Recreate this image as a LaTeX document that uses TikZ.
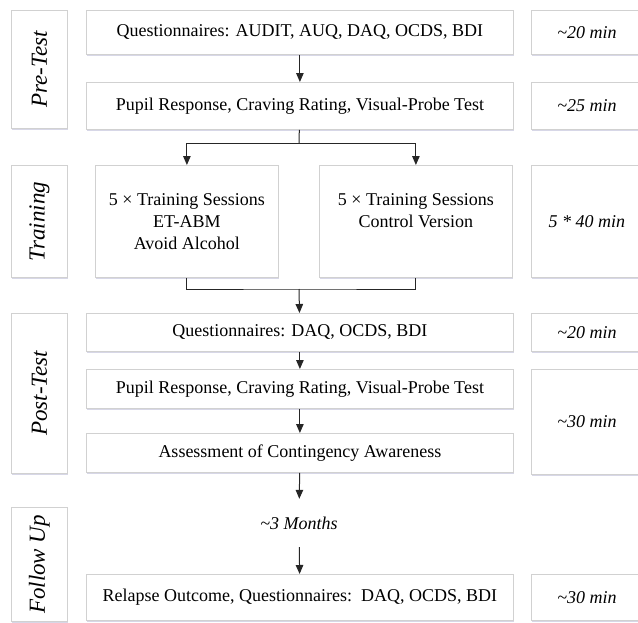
\documentclass[tikz,border=0pt]{standalone}
\usepackage{fontspec}
\setmainfont{Liberation Serif}
\usetikzlibrary{arrows.meta,shadows}

\begin{document}
\begin{tikzpicture}[
  x=1pt, y=-1pt,
  every node/.style={align=center},
  box/.style={draw=black!18,line width=0.8pt,fill=white,rectangle,anchor=north west,
    inner sep=0pt,font=\fontsize{18}{22}\selectfont,
    drop shadow={shadow xshift=0.8pt,shadow yshift=-1.2pt,fill=blue!25!gray,opacity=0.25}},
  phase/.style={box,minimum width=56pt,font=\fontsize{23}{26}\selectfont\itshape},
  stepbox/.style={box,minimum width=427pt},
  timebox/.style={box,minimum width=111pt,font=\fontsize{18}{22}\selectfont\itshape},
  flow/.style={->,>={Triangle[length=9pt,width=7.5pt]},line width=1pt,black!85},
  link/.style={-,line width=1pt,black!85}]

  \useasboundingbox (0,0) rectangle (638,622);
  \clip (0,0) rectangle (638,622);

  % phase labels
  \node[phase,minimum height=118pt] (pPre) at (11,10) {\rotatebox{90}{Pre-Test}};
  \node[phase,minimum height=112pt] (pTrain) at (11,165) {\rotatebox{90}{Training}};
  \node[phase,minimum height=160pt] (pPost) at (11,313) {\rotatebox{90}{Post-Test}};
  \node[phase,minimum height=114pt] (pFollow) at (11,507) {\rotatebox{90}{Follow Up}};

  % steps
  \node[stepbox,minimum height=44pt] (preQuest) at (86,10) {Questionnaires: AUDIT, AUQ, DAQ, OCDS, BDI};
  \node[stepbox,minimum height=47pt] (prePupil) at (86,82) {Pupil Response, Craving Rating, Visual-Probe Test};
  \node[box,minimum width=183pt,minimum height=112pt] (trainABM) at (95,165)
    {5 × Training Sessions\\ET-ABM\\Avoid Alcohol};
  \node[box,minimum width=193pt,minimum height=112pt] (trainCtrl) at (319,165)
    {5 × Training Sessions\\Control Version\\~};
  \node[stepbox,minimum height=38pt] (postQuest) at (86,313) {Questionnaires: DAQ, OCDS, BDI};
  \node[stepbox,minimum height=39pt] (postPupil) at (86,369) {Pupil Response, Craving Rating, Visual-Probe Test};
  \node[stepbox,minimum height=39pt] (postAware) at (86,433) {Assessment of Contingency Awareness};
  \node[font=\fontsize{18}{22}\selectfont\itshape,minimum height=48pt,inner sep=0pt] (months) at (299,523)
    {\textasciitilde3 Months};
  \node[stepbox,minimum height=46pt] (relapse) at (86,574) {Relapse Outcome, Questionnaires:\ \ DAQ, OCDS, BDI};

  % durations
  \node[timebox,minimum height=44pt] (tPreQuest) at (531,10) {\textasciitilde20 min};
  \node[timebox,minimum height=47pt] (tPrePupil) at (531,82) {\textasciitilde25 min};
  \node[timebox,minimum height=112pt] (tTrain) at (531,165) {5 * 40 min};
  \node[timebox,minimum height=38pt] (tPostQuest) at (531,313) {\textasciitilde20 min};
  \node[timebox,minimum height=105pt] (tPostRest) at (531,369) {\textasciitilde30 min};
  \node[timebox,minimum height=46pt] (tRelapse) at (531,574) {\textasciitilde30 min};

  % connectors
  \coordinate (split) at (299,143);
  \coordinate (merge) at (299,289);
  \draw [flow] (preQuest) -- (prePupil);
  \draw [link] (prePupil) -- (split);
  \draw [flow] (split) -| (trainABM.north);
  \draw [flow] (split) -| (trainCtrl.north);
  \draw [link] (trainABM.south) |- (merge) -| (trainCtrl.south);
  \draw [flow] (merge) -- (postQuest);
  \draw [flow] (postQuest) -- (postPupil);
  \draw [flow] (postPupil) -- (postAware);
  \draw [flow] (postAware) -- (months);
  \draw [flow] (months) -- (relapse);
\end{tikzpicture}
\end{document}
